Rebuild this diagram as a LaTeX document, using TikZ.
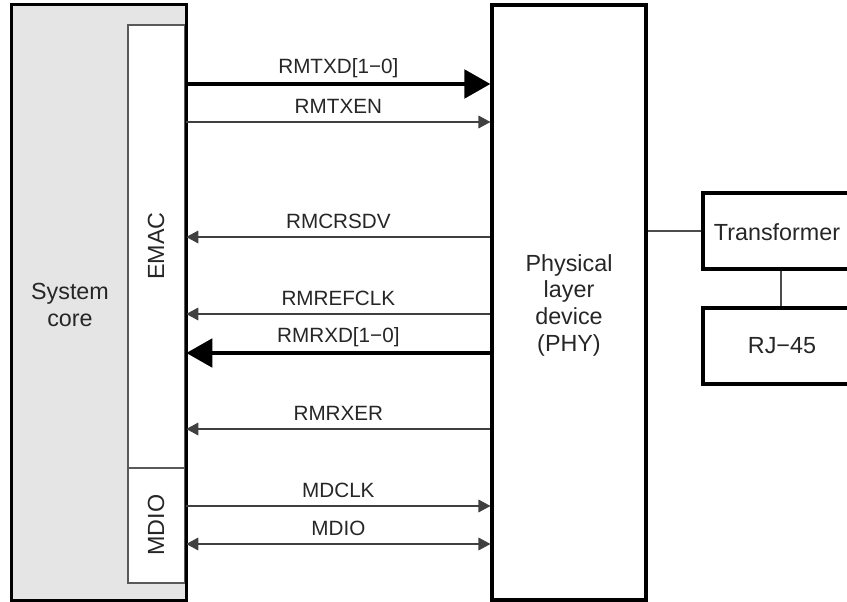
\documentclass[tikz,border=0pt]{standalone}
\usepackage{fontspec}
\setmainfont{Liberation Sans}
\usetikzlibrary{arrows.meta,fit}
\begin{document}
\begin{tikzpicture}[x=0.75pt,y=-0.75pt,
  blk/.style={draw=black, line width=2.3pt, inner sep=0pt},
  sub/.style={draw=black!65, fill=white, line width=0.8pt, inner sep=0pt},
  sig/.style={draw=black!75, line width=0.9pt, -{Triangle[length=9pt,width=9.5pt]}},
  bisig/.style={draw=black!75, line width=0.9pt, {Triangle[length=9pt,width=9.5pt]}-{Triangle[length=9pt,width=9.5pt]}},
  bus/.style={draw=black, line width=3.6pt, -{Triangle[length=19.5pt,width=21pt]}},
  link/.style={draw=black!70, line width=0.9pt},
  lbl/.style={font=\fontsize{15.5}{18}\selectfont, anchor=base, yshift=6pt, inner sep=0pt, text=black!85},
  btxt/.style={font=\fontsize{17.5}{20}\selectfont, align=center, inner sep=0pt, text=black!85},
]
\useasboundingbox (0,0) rectangle (847,602);
% system core
\node[fill=black!10, inner sep=0pt, fit={(12,5) (186,600)}] (core) {};
\node[sub, fit={(128,25) (185,468)}] (emac) {};
\node[sub, fit={(128,468) (185,583)}] (mdio) {};
\draw[blk] (core.north west) rectangle (core.south east);
\node[btxt] (coretxt) at (70,305) {System\\core};
\node[btxt, rotate=90] (emactxt) at (156,246) {EMAC};
\node[btxt, rotate=90] (mdiotxt) at (156,525) {MDIO};
% PHY
\node[blk, fit={(492,5) (646,600)}] (phy) {};
\node[btxt] (phytxt) at (569,305) {Physical\\layer\\device\\(PHY)};
% transformer and RJ-45
\node[blk, fit={(703,193) (858,269)}] (tr) {};
\node[btxt] (trtxt) at (777,232) {Transformer};
\node[blk, fit={(703,308) (858,384)}] (rj) {};
\node[btxt] (rjtxt) at (782,346) {RJ\char"2212 45};
\draw[link] (phy.east |- tr.west) -- (tr.west);
\draw[link] (tr.south -| 781,0) -- (rj.north -| 781,0);
% signal rows
\coordinate (y1) at (0,84);
\coordinate (y2) at (0,122);
\coordinate (y3) at (0,237);
\coordinate (y4) at (0,314);
\coordinate (y5) at (0,353);
\coordinate (y6) at (0,429);
\coordinate (y7) at (0,506);
\coordinate (y8) at (0,544);
\draw[bus] (core.east |- y1) -- node[lbl, yshift=1.5pt] {RMTXD[1\char"2212 0]} (phy.west |- y1);
\draw[sig] (core.east |- y2) -- node[lbl] {RMTXEN} (phy.west |- y2);
\draw[sig] (phy.west |- y3) -- node[lbl] {RMCRSDV} (core.east |- y3);
\draw[sig] (phy.west |- y4) -- node[lbl] {RMREFCLK} (core.east |- y4);
\draw[bus] (phy.west |- y5) -- node[lbl, yshift=1.5pt] {RMRXD[1\char"2212 0]} (core.east |- y5);
\draw[sig] (phy.west |- y6) -- node[lbl] {RMRXER} (core.east |- y6);
\draw[sig] (core.east |- y7) -- node[lbl] {MDCLK} (phy.west |- y7);
\draw[bisig] (core.east |- y8) -- node[lbl] {MDIO} (phy.west |- y8);
\end{tikzpicture}
\end{document}
